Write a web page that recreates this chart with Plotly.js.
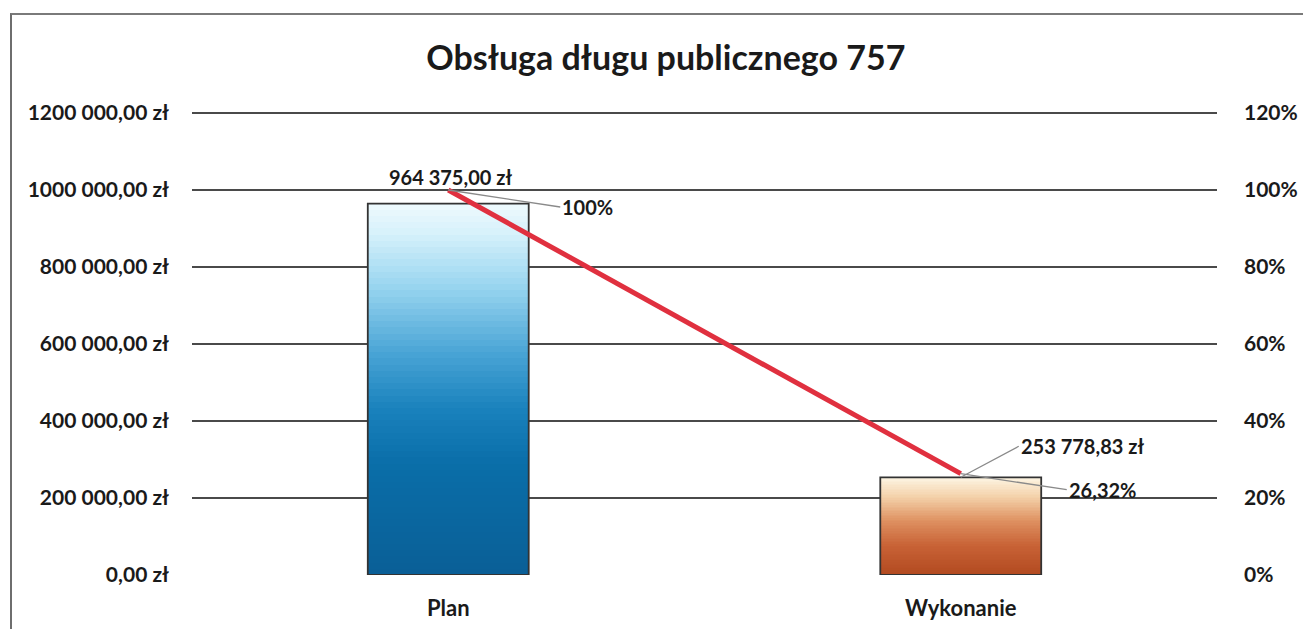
<!DOCTYPE html>
<html>
<head>
<meta charset="utf-8">
<script src="https://cdn.plot.ly/plotly-3.0.1.min.js"></script>
<style>
  html, body { margin: 0; padding: 0; background: #ffffff; }
  #wrap { position: relative; width: 1303px; height: 629px; }
  #chart { width: 1303px; height: 629px; }
  #frame { position: absolute; left: 10px; top: 13px; width: 1293px; height: 616px;
           border-left: 2px solid #6e6e6e; border-top: 2px solid #7a7a7a; pointer-events: none; }
</style>
</head>
<body>
<div id="wrap">
  <div id="chart"></div>
  <div id="frame"></div>
</div>
<script>
// ---- data ----
const categories = ["Plan", "Wykonanie"];
const amounts = [964375.00, 253778.83];
const amountLabels = ["964 375,00 zł", "253 778,83 zł"];
const percents = [1.0, 0.2632];
const percentLabels = ["100%", "26,32%"];
const leftTickVals = [0, 200000, 400000, 600000, 800000, 1000000, 1200000];
const leftTickText = ["0,00 zł", "200 000,00 zł", "400 000,00 zł", "600 000,00 zł", "800 000,00 zł", "1000 000,00 zł", "1200 000,00 zł"];
const rightTickVals = [0, 0.2, 0.4, 0.6, 0.8, 1.0, 1.2];
const rightTickText = ["0%", "20%", "40%", "60%", "80%", "100%", "120%"];
const chartTitle = "Obsługa długu publicznego 757";

// ---- styles ----
const FONT = "Lato, 'Open Sans', sans-serif";
const blueStops = [[0, "#0a5f96"], [0.3, "#0a6ea9"], [0.45, "#1a82bd"], [0.6, "#4aa5d6"], [0.78, "#9ad6f0"], [0.92, "#d6f1fb"], [1, "#eefafd"]];
const brownStops = [[0, "#b24a20"], [0.3, "#c86236"], [0.55, "#de9060"], [0.8, "#f4d2aa"], [1, "#fdf5e4"]];
const BAR_W = 0.314;
const GRID_COLOR = "#4a4a4a";

function hexToRgb(h) { return [parseInt(h.slice(1,3),16), parseInt(h.slice(3,5),16), parseInt(h.slice(5,7),16)]; }
function interp(stops, t) {
  for (let i = 0; i < stops.length - 1; i++) {
    const [t0, c0] = stops[i], [t1, c1] = stops[i+1];
    if (t >= t0 && t <= t1) {
      const f = (t - t0) / (t1 - t0 || 1);
      const a = hexToRgb(c0), b = hexToRgb(c1);
      return "rgb(" + a.map((v, j) => Math.round(v + (b[j] - v) * f)).join(",") + ")";
    }
  }
  return stops[stops.length - 1][1];
}
const gradients = [blueStops, brownStops];

const traces = [];
const N = 60;
for (let k = 0; k < N; k++) {
  const t = (k + 0.5) / N;
  const last = k === N - 1;
  traces.push({
    type: "bar",
    x: categories,
    base: amounts.map(v => v * k / N),
    y: amounts.map(v => v / N * (last ? 1 : 1.8)),
    width: BAR_W,
    marker: { color: gradients.map(g => interp(g, t)), line: { width: 0 } },
    hoverinfo: "skip",
    showlegend: false
  });
}
// outline
traces.push({
  type: "bar",
  x: categories,
  y: amounts,
  width: BAR_W,
  marker: { color: "rgba(0,0,0,0)", line: { color: "#333333", width: 1.8 } },
  hoverinfo: "skip",
  showlegend: false
});
// percentage line
traces.push({
  type: "scatter",
  mode: "lines",
  x: categories,
  y: percents,
  yaxis: "y2",
  line: { color: "#e0303f", width: 5 },
  hoverinfo: "skip",
  showlegend: false
});

const labelFont = { family: FONT, size: 20, color: "#1a1a1a", weight: 700 };
const annotations = [
  { x: categories[0], y: amounts[0], xref: "x", yref: "y", text: "<b>" + amountLabels[0] + "</b>",
    showarrow: false, yanchor: "middle", yshift: 27, xshift: 2, font: labelFont },
  { x: categories[0], y: percents[0], xref: "x", yref: "y2", text: "<b>" + percentLabels[0] + "</b>",
    showarrow: true, arrowhead: 0, arrowwidth: 1.3, arrowcolor: "#8a8a8a", ax: 112, ay: 17,
    xanchor: "left", font: labelFont },
  { x: categories[1], y: amounts[1], xref: "x", yref: "y", text: "<b>" + amountLabels[1] + "</b>",
    showarrow: true, arrowhead: 0, arrowwidth: 1.3, arrowcolor: "#8a8a8a", ax: 58, ay: -31,
    xanchor: "left", font: labelFont },
  { x: categories[1], y: percents[1], xref: "x", yref: "y2", text: "<b>" + percentLabels[1] + "</b>",
    showarrow: true, arrowhead: 0, arrowwidth: 1.3, arrowcolor: "#8a8a8a", ax: 106, ay: 16,
    xanchor: "left", font: labelFont }
];

// top gridline at the top of the range (plotly omits the gridline lying exactly on the range edge)
const shapes = [
  { type: "line", xref: "paper", yref: "paper", x0: 0, x1: 1, y0: 1, y1: 1,
    line: { color: GRID_COLOR, width: 2 }, layer: "below" }
];

const layout = {
  width: 1303, height: 629,
  paper_bgcolor: "#ffffff", plot_bgcolor: "#ffffff",
  margin: { l: 192, r: 86, t: 113, b: 54 },
  barmode: "overlay",
  bargap: 0,
  font: { family: FONT, size: 21, color: "#1a1a1a" },
  title: { text: "<b>" + chartTitle + "</b>", x: 0.511, xref: "container", xanchor: "center",
           y: 1 - 58 / 629, yref: "container", yanchor: "middle",
           font: { family: FONT, size: 34, color: "#1a1a1a" } },
  xaxis: { type: "category", range: [-0.5, 1.5], showgrid: false, zeroline: false, showline: false,
           ticks: "", ticklabelstandoff: 18,
           tickfont: { family: FONT, size: 22, color: "#1a1a1a", weight: 700 } },
  yaxis: { range: [0, Math.max(...leftTickVals)], tickvals: leftTickVals, ticktext: leftTickText,
           showgrid: true, gridcolor: GRID_COLOR, gridwidth: 2,
           zeroline: true, zerolinecolor: "rgba(0,0,0,0)", showline: false, ticks: "",
           ticklabelstandoff: 22,
           tickfont: { family: FONT, size: 21, color: "#1a1a1a", weight: 700 } },
  yaxis2: { range: [0, Math.max(...rightTickVals)], overlaying: "y", side: "right", tickvals: rightTickVals, ticktext: rightTickText,
            showgrid: false, zeroline: false, showline: false, ticks: "", ticklabelstandoff: 26,
            tickfont: { family: FONT, size: 21, color: "#1a1a1a", weight: 700 } },
  shapes: shapes,
  annotations: annotations
};

Plotly.newPlot("chart", traces, layout, { staticPlot: true, displayModeBar: false });
</script>
</body>
</html>
